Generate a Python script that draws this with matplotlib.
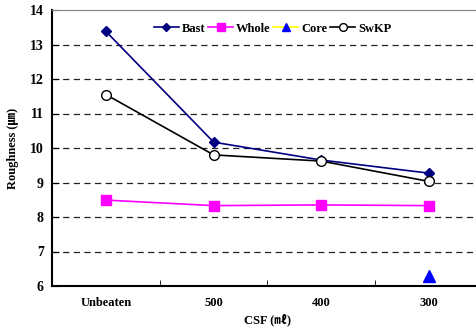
import matplotlib.pyplot as plt
import numpy as np

plt.rcParams['font.family'] = ['Liberation Serif', 'Noto Sans CJK KR']
plt.rcParams['font.weight'] = 'bold'

categories = ['Unbeaten', '500', '400', '300']
bast = [13.38, 10.17, 9.65, 9.27]
whole = [8.49, 8.33, 8.35, 8.33]
core_cat = ['300']
core = [6.28]
swkp = [11.55, 9.8, 9.62, 9.03]

x = np.arange(len(categories))
xc = [categories.index(c) for c in core_cat]

fig = plt.figure(figsize=(4.77, 3.34), dpi=100)
ax = fig.add_axes([52 / 477, 1 - 286 / 334, 431 / 477, 276 / 334])

ax.plot(x, bast, color='#000080', lw=1.2, marker='D', ms=5, mfc='#000080', label='Bast')
ax.plot(x, whole, color='#FF00FF', lw=1.2, marker='s', ms=7.5, mfc='#FF00FF', mec='#FF00FF', label='Whole')
ax.plot(xc, core, color='#FFFF00', lw=1.2, marker='^', ms=8, mfc='#0000FF', mec='#0000FF', label='Core')
ax.plot(x, swkp, color='black', lw=1.2, marker='o', ms=7, mfc='white', mec='black', label='SwKP')

ax.set_ylim(6, 14)
ax.set_xlim(-0.5, 3.5)
ax.set_yticks(range(6, 15))
for yv in range(7, 14):
    ax.axhline(yv, color='#222222', lw=0.9, ls=(0, (5, 3.5)), zorder=0)

ax.set_xticks(x)
ax.set_xticklabels(categories)
ax.set_xticks(x[:-1] + 0.5, minor=True)
ax.tick_params(axis='x', which='major', length=0, pad=8, labelsize=9)
ax.tick_params(axis='x', which='minor', direction='in', length=4)
ax.tick_params(axis='y', direction='in', length=5, labelsize=10, pad=6)

ax.spines['top'].set_color('#808080')
ax.spines['right'].set_visible(False)
ax.spines['left'].set_linewidth(1.5)
ax.spines['bottom'].set_linewidth(1.5)

ax.set_xlabel('CSF (㎖)', fontsize=9, fontweight='bold', labelpad=3)
ax.set_ylabel('Roughness (㎛)', fontsize=9, fontweight='bold', labelpad=8)

ax.legend(loc='upper left', bbox_to_anchor=(0.21, 0.995), ncol=4, frameon=False,
          fontsize=9, handlelength=2.0, handletextpad=0.25, columnspacing=0.2,
          markerscale=0.8)

fig.savefig('out.png', dpi=100)
